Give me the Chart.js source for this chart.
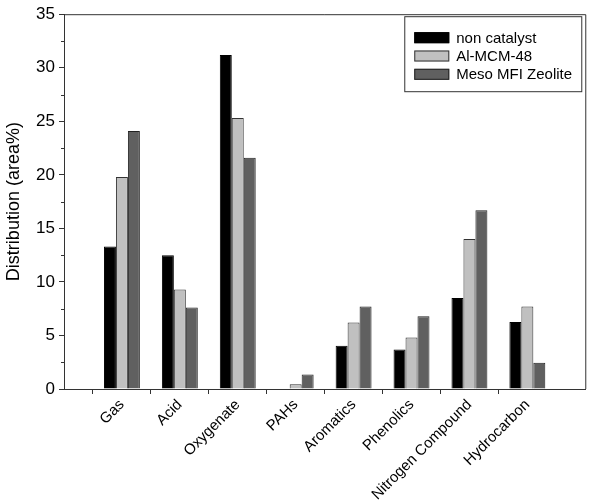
<!DOCTYPE html>
<html>
<head>
<meta charset="utf-8">
<script src="https://cdn.jsdelivr.net/npm/chart.js@4"></script>
<style>
  html, body { margin: 0; padding: 0; background: #fff; }
  #wrap { width: 600px; height: 503px; }
</style>
</head>
<body>
<div id="wrap"><canvas id="chart" width="600" height="503"></canvas></div>
<script>
// Data
const categories = ['Gas', 'Acid', 'Oxygenate', 'PAHs', 'Aromatics', 'Phenolics', 'Nitrogen Compound', 'Hydrocarbon'];
const nonCatalyst = [13.3, 12.5, 31.2, 0, 4.05, 3.7, 8.5, 6.25];
const alMcm48 = [19.8, 9.3, 25.3, 0.45, 6.2, 4.8, 14.0, 7.7];
const mesoMfi = [24.1, 7.6, 21.6, 1.35, 7.7, 6.8, 16.7, 2.45];
const yTicks = [0, 5, 10, 15, 20, 25, 30, 35];
const yMinorTicks = [2.5, 7.5, 12.5, 17.5, 22.5, 27.5, 32.5];

const FONT = 'Liberation Sans, Arial, Helvetica, sans-serif';
const AXIS = '#333';

// empty slot at each end so the axis runs a full step past the outer groups
const labels = ['', ...categories, ''];
const pad = arr => [null, ...arr, null];

// top + right frame lines and minor y ticks
const framePlugin = {
    id: 'frame',
    afterDraw(chart) {
        const { ctx, chartArea: a } = chart;
        const y = chart.scales.y;
        ctx.save();
        ctx.strokeStyle = AXIS;
        ctx.lineWidth = 1;
        ctx.beginPath();
        ctx.moveTo(a.left, a.top + 0.5);
        ctx.lineTo(a.right + 0.5, a.top + 0.5);
        ctx.lineTo(a.right + 0.5, a.bottom);
        yMinorTicks.forEach(v => {
            const py = Math.round(y.getPixelForValue(v)) + 0.5;
            ctx.moveTo(a.left - 3, py);
            ctx.lineTo(a.left, py);
        });
        ctx.stroke();
        ctx.restore();
    }
};

// boxed legend in the top-right corner
const legendPlugin = {
    id: 'boxLegend',
    afterDraw(chart) {
        const { ctx, chartArea: a } = chart;
        const x0 = a.right - 181, y0 = a.top + 2;
        ctx.save();
        ctx.fillStyle = '#fff';
        ctx.fillRect(x0, y0, 177, 75);
        ctx.strokeStyle = AXIS;
        ctx.lineWidth = 1;
        ctx.strokeRect(x0 + 0.5, y0 + 0.5, 177, 75);
        ctx.font = '15px ' + FONT;
        ctx.textBaseline = 'middle';
        chart.data.datasets.forEach((ds, i) => {
            const cy = y0 + 21.5 + i * 18.3;
            ctx.fillStyle = ds.backgroundColor;
            ctx.fillRect(x0 + 10, cy - 5.5, 35, 11);
            ctx.strokeStyle = ds.borderColor;
            ctx.strokeRect(x0 + 10.5, cy - 5, 34, 10);
            ctx.fillStyle = '#000';
            ctx.fillText(ds.label, x0 + 52, cy + 1);
        });
        ctx.restore();
    }
};

new Chart(document.getElementById('chart').getContext('2d'), {
    type: 'bar',
    data: {
        labels: labels,
        datasets: [
            { label: 'non catalyst', data: pad(nonCatalyst), backgroundColor: '#000000', borderColor: '#000000', borderWidth: 1 },
            { label: 'Al-MCM-48', data: pad(alMcm48), backgroundColor: '#c0c0c0', borderColor: '#333333', borderWidth: 1 },
            { label: 'Meso MFI Zeolite', data: pad(mesoMfi), backgroundColor: '#606060', borderColor: '#222222', borderWidth: 1 }
        ]
    },
    options: {
        responsive: false,
        animation: false,
        layout: { padding: { top: 13, right: 12, left: 0, bottom: 0 } },
        datasets: { bar: { barPercentage: 1, categoryPercentage: 0.62, borderSkipped: 'start' } },
        plugins: { legend: { display: false }, tooltip: { enabled: false } },
        scales: {
            x: {
                offset: false,
                afterFit: s => { s.height = 114; },
                grid: {
                    drawOnChartArea: false,
                    tickLength: 5,
                    color: c => (c.index === 0 || c.index === labels.length - 1) ? 'rgba(0,0,0,0)' : AXIS
                },
                border: { color: AXIS, width: 1 },
                ticks: {
                    autoSkip: false,
                    maxRotation: 45,
                    minRotation: 45,
                    padding: 2,
                    color: '#000',
                    font: { family: FONT, size: 15 }
                }
            },
            y: {
                min: 0,
                max: 35,
                afterFit: s => { s.width = 64; },
                afterBuildTicks: s => { s.ticks = yTicks.map(v => ({ value: v })); },
                grid: { drawOnChartArea: false, tickLength: 5, color: AXIS },
                border: { color: AXIS, width: 1 },
                ticks: {
                    padding: 4,
                    color: '#000',
                    font: { family: FONT, size: 17 }
                },
                title: {
                    display: true,
                    text: 'Distribution (area%)',
                    color: '#000',
                    padding: { top: 3, bottom: 0 },
                    font: { family: FONT, size: 18 }
                }
            }
        }
    },
    plugins: [framePlugin, legendPlugin]
});
</script>
</body>
</html>
